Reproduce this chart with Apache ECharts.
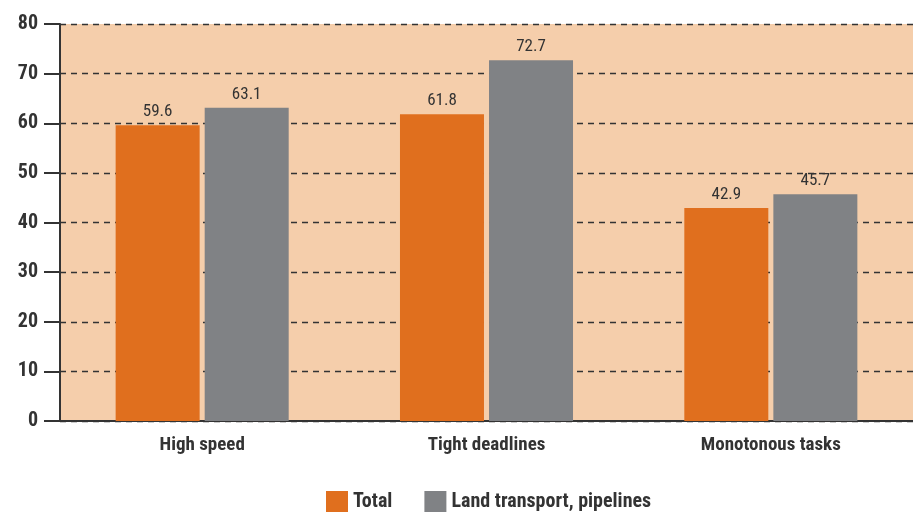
<!DOCTYPE html>
<html>
<head>
<meta charset="utf-8">
<script src="https://cdn.jsdelivr.net/npm/echarts@6/dist/echarts.min.js"></script>
<style>
  html, body { margin: 0; padding: 0; background: #fff; }
  #chart { width: 913px; height: 512px; }
</style>
</head>
<body>
<div id="chart"></div>
<script>
const categories = ['High speed', 'Tight deadlines', 'Monotonous tasks'];
const totalValues = [59.6, 61.8, 42.9];
const landValues = [63.1, 72.7, 45.7];
const seriesNames = ['Total', 'Land transport, pipelines'];

const FONT = '"Liberation Sans Narrow", "Roboto Condensed", "DejaVu Sans Condensed", sans-serif';

const chart = echarts.init(document.getElementById('chart'));

const valueLabel = {
  show: true,
  position: 'top',
  distance: 5,
  fontFamily: FONT,
  fontSize: 17,
  color: '#333'
};

chart.setOption({
  animation: false,
  textStyle: { fontFamily: FONT },
  grid: {
    left: 60,
    top: 24,
    width: 860,
    height: 397,
    show: true,
    backgroundColor: '#F5CEAB',
    borderWidth: 0
  },
  legend: {
    left: 321,
    top: 486,
    itemWidth: 22,
    itemHeight: 22,
    itemGap: 32,
    icon: 'rect',
    textStyle: { fontFamily: FONT, fontSize: 20, fontWeight: 'bold', color: '#333' },
    data: seriesNames
  },
  xAxis: {
    type: 'category',
    data: categories,
    axisLine: { lineStyle: { color: '#333', width: 2 } },
    axisTick: { length: 16, lineStyle: { color: '#333', width: 2 } },
    axisLabel: {
      margin: 15,
      fontFamily: FONT,
      fontSize: 19,
      fontWeight: 'bold',
      color: '#333'
    }
  },
  yAxis: {
    type: 'value',
    min: 0,
    max: 80,
    interval: 10,
    axisLine: { show: true, lineStyle: { color: '#333', width: 2 } },
    axisTick: { show: true, length: 16, lineStyle: { color: '#333', width: 2 } },
    axisLabel: {
      margin: 22,
      fontFamily: FONT,
      fontSize: 20,
      fontWeight: 'bold',
      color: '#333'
    },
    splitLine: {
      lineStyle: { color: '#333', type: [6, 5], width: 1.3 }
    }
  },
  series: [
    {
      name: seriesNames[0],
      type: 'bar',
      data: totalValues,
      barWidth: 84,
      barGap: '6%',
      itemStyle: { color: '#E06F1E' },
      label: valueLabel
    },
    {
      name: seriesNames[1],
      type: 'bar',
      data: landValues,
      barWidth: 84,
      itemStyle: { color: '#808285' },
      label: valueLabel
    }
  ]
});
</script>
</body>
</html>
